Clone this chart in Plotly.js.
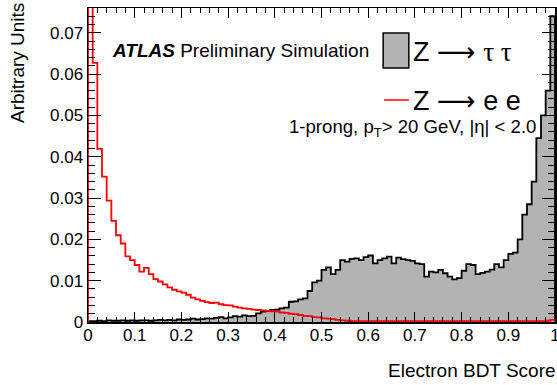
<!DOCTYPE html>
<html>
<head>
<meta charset="utf-8">
<script src="https://cdn.plot.ly/plotly-3.0.1.min.js"></script>
<style>html,body{margin:0;padding:0;background:#fff;}#chart{width:557px;height:385px;}</style>
</head>
<body>
<div id="chart"></div>
<script>
// Bin lower edges (100 bins of width 0.01 on the Electron BDT Score axis)
const binWidth = 0.01;
const binLow = Array.from({length: 100}, (_, i) => +(i * binWidth).toFixed(2));

// Z -> tau tau (grey filled histogram), arbitrary units
const zTauTau = [
  0.0002, 0.0002, 0.0003, 0.0002, 0.0004, 0.0003, 0.0003, 0.0004, 0.0003, 0.0004,
  0.0003, 0.0004, 0.0004, 0.0003, 0.0004, 0.0005, 0.0004, 0.0005, 0.0004, 0.0006,
  0.0005, 0.0006, 0.0008, 0.0006, 0.0007, 0.0009, 0.0008, 0.0010, 0.0012, 0.0009,
  0.0011, 0.0014, 0.0013, 0.0016, 0.0014, 0.0015, 0.0021, 0.0025, 0.0027, 0.0029,
  0.0030, 0.0033, 0.0035, 0.0049, 0.0050, 0.0055, 0.0057, 0.0075, 0.0096, 0.0100,
  0.0126, 0.0132, 0.0116, 0.0126, 0.0150, 0.0146, 0.0153, 0.0154, 0.0150, 0.0157,
  0.0161, 0.0142, 0.0150, 0.0154, 0.0158, 0.0142, 0.0156, 0.0152, 0.0150, 0.0148,
  0.0142, 0.0140, 0.0110, 0.0122, 0.0120, 0.0126, 0.0118, 0.0110, 0.0103, 0.0106,
  0.0124, 0.0140, 0.0138, 0.0116, 0.0119, 0.0122, 0.0127, 0.0140, 0.0132, 0.0150,
  0.0165, 0.0168, 0.0200, 0.0260, 0.0285, 0.0340, 0.0445, 0.0500, 0.0560, 0.0740
];

// Z -> e e (red line histogram), arbitrary units
const zEE = [
  0.0900, 0.0627, 0.0419, 0.0352, 0.0294, 0.0245, 0.0210, 0.0190, 0.0159, 0.0150,
  0.0138, 0.0122, 0.0131, 0.0116, 0.0104, 0.0098, 0.0091, 0.0084, 0.0078, 0.0074,
  0.0071, 0.0066, 0.0059, 0.0055, 0.0051, 0.0048, 0.0046, 0.0047, 0.0043, 0.0041,
  0.0040, 0.0037, 0.0035, 0.0033, 0.0032, 0.0030, 0.0029, 0.0028, 0.0027, 0.0026,
  0.0025, 0.0023, 0.0022, 0.0020, 0.0019, 0.0017, 0.0015, 0.0014, 0.0012, 0.0011,
  0.0009, 0.0008, 0.0007, 0.0005, 0.0004, 0.0003, 0.0002, 0.0002, 0.0002, 0.0002,
  0.0002, 0.0002, 0.0002, 0.0002, 0.0002, 0.0002, 0.0002, 0.0002, 0.0002, 0.0002,
  0.0002, 0.0002, 0.0002, 0.0002, 0.0002, 0.0002, 0.0002, 0.0002, 0.0002, 0.0002,
  0.0002, 0.0002, 0.0002, 0.0002, 0.0002, 0.0002, 0.0002, 0.0002, 0.0002, 0.0002,
  0.0002, 0.0002, 0.0002, 0.0002, 0.0002, 0.0002, 0.0002, 0.0002, 0.0003, 0.0005
];

const xTickVals = [0, 0.1, 0.2, 0.3, 0.4, 0.5, 0.6, 0.7, 0.8, 0.9, 1];
const xTickText = ['0', '0.1', '0.2', '0.3', '0.4', '0.5', '0.6', '0.7', '0.8', '0.9', '1'];
const yTickVals = [0, 0.01, 0.02, 0.03, 0.04, 0.05, 0.06, 0.07];
const yTickText = ['0', '0.01', '0.02', '0.03', '0.04', '0.05', '0.06', '0.07'];

// Build step outlines (histogram style) from bin edges and contents
function stepXY(lows, vals, w) {
  const x = [lows[0]], y = [0];
  for (let i = 0; i < vals.length; i++) { x.push(lows[i]); y.push(vals[i]); }
  const hi = +(lows[lows.length - 1] + w).toFixed(2);
  x.push(hi); y.push(vals[vals.length - 1]);
  x.push(hi); y.push(0);
  return {x, y};
}
const tt = stepXY(binLow, zTauTau, binWidth);
const ee = stepXY(binLow, zEE, binWidth);

const FONT = 'Liberation Sans, Arial, Helvetica, sans-serif';
const ARROW = '<span style="font-family:DejaVu Sans">⟶</span>';
const SERIF = (s) => '<span style="font-family:Liberation Serif">' + s + '</span>';

const traces = [
  {x: tt.x, y: tt.y, type: 'scatter', mode: 'lines', name: 'Z → τ τ',
   line: {shape: 'hv', color: '#000000', width: 1.8}, fill: 'tozeroy', fillcolor: '#b3b3b3',
   showlegend: false, hoverinfo: 'skip'},
  {x: ee.x, y: ee.y, type: 'scatter', mode: 'lines', name: 'Z → e e',
   line: {shape: 'hv', color: '#ff0000', width: 1.8},
   showlegend: false, hoverinfo: 'skip'}
];

const layout = {
  width: 557, height: 385,
  margin: {l: 88, r: 2, t: 8, b: 63, pad: 0},
  paper_bgcolor: '#ffffff', plot_bgcolor: '#ffffff',
  font: {family: FONT, color: '#000000', size: 18},
  showlegend: false,
  xaxis: {
    range: [0, 1], tickmode: 'array', tickvals: xTickVals, ticktext: xTickText,
    ticks: 'inside', ticklen: 10, tickwidth: 1, tickcolor: '#000',
    showline: true, linecolor: '#000', linewidth: 1.5, mirror: 'allticks',
    showgrid: false, zeroline: false, ticklabeloverflow: 'allow', ticklabelstandoff: -3,
    tickfont: {family: FONT, size: 17, color: '#000'},
    minor: {dtick: 0.02, tick0: 0, ticks: 'inside', ticklen: 5, tickwidth: 1, tickcolor: '#000', showgrid: false}
  },
  yaxis: {
    range: [0, 0.076], tickmode: 'array', tickvals: yTickVals, ticktext: yTickText,
    ticks: 'inside', ticklen: 13, tickwidth: 1, tickcolor: '#000',
    showline: true, linecolor: '#000', linewidth: 1.5, mirror: 'allticks',
    showgrid: false, zeroline: false, ticklabeloverflow: 'allow',
    tickfont: {family: FONT, size: 17, color: '#000'},
    minor: {dtick: 0.002, tick0: 0, ticks: 'inside', ticklen: 7, tickwidth: 1, tickcolor: '#000', showgrid: false}
  },
  shapes: [
    {type: 'rect', xref: 'paper', yref: 'paper', x0: 0.632, x1: 0.687, y0: 0.809, y1: 0.920,
     fillcolor: '#b3b3b3', line: {color: '#000', width: 1.5}},
    {type: 'line', xref: 'paper', yref: 'paper', x0: 0.634, x1: 0.687, y0: 0.707, y1: 0.707,
     line: {color: '#ff0000', width: 1.5}}
  ],
  annotations: [
    {text: 'Arbitrary Units', xref: 'paper', yref: 'paper', x: -0.152, y: 1, xanchor: 'center', yanchor: 'top',
     yshift: 7, textangle: -90, showarrow: false, font: {family: FONT, size: 19}},
    {text: 'Electron BDT Score', xref: 'paper', yref: 'paper', x: 1, y: -0.153, xanchor: 'right', yanchor: 'middle',
     xshift: 3, showarrow: false, font: {family: FONT, size: 19}},
    {text: '<b><i>ATLAS</i></b> Preliminary Simulation', xref: 'paper', yref: 'paper', x: 0.0535, y: 0.866,
     xanchor: 'left', yanchor: 'middle', xshift: -3, showarrow: false, font: {family: FONT, size: 19}},
    {text: 'Z ' + ARROW + ' ' + SERIF('τ&nbsp;τ'), xref: 'paper', yref: 'paper', x: 0.698, y: 0.86, xanchor: 'left', yanchor: 'middle',
     xshift: -3, showarrow: false, font: {family: FONT, size: 27}},
    {text: 'Z ' + ARROW + ' e e', xref: 'paper', yref: 'paper', x: 0.698, y: 0.707, xanchor: 'left', yanchor: 'middle',
     xshift: -3, showarrow: false, font: {family: FONT, size: 27}},
    {text: '1-prong, p<sub>T</sub>&gt; 20 GeV, |η| &lt; 2.0', xref: 'paper', yref: 'paper', x: 0.4325, y: 0.617,
     xanchor: 'left', yanchor: 'middle', xshift: -3, showarrow: false, font: {family: FONT, size: 18.6}}
  ]
};

Plotly.newPlot('chart', traces, layout, {staticPlot: true, displayModeBar: false});
</script>
</body>
</html>
